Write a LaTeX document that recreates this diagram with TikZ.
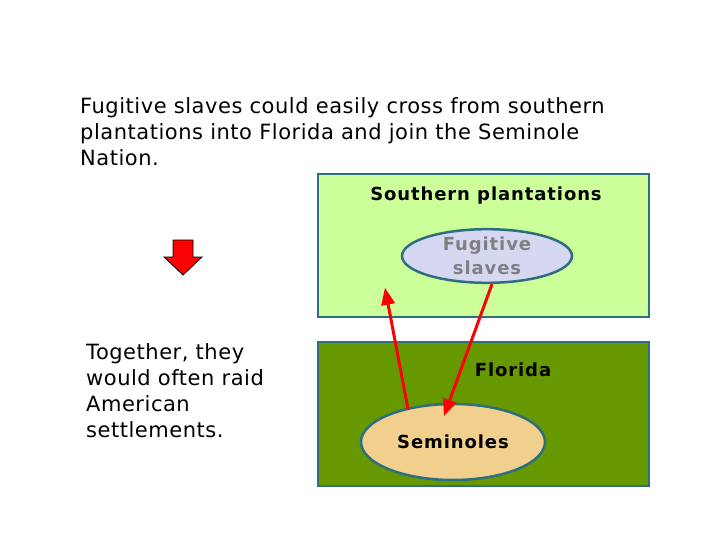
\documentclass[tikz,border=0pt]{standalone}
\usepackage{fontspec}
\setmainfont{DejaVu Sans}
\newfontfamily\widefont[LetterSpace=5]{DejaVu Sans}
\newfontfamily\bodyfont[LetterSpace=2.5]{DejaVu Sans}
\usepackage{tikz}
\usetikzlibrary{arrows,shapes.geometric}
\definecolor{paleleaf}{HTML}{CCFF99}
\definecolor{darkleaf}{HTML}{669900}
\definecolor{tealedge}{HTML}{2E6E7E}
\definecolor{lavender}{HTML}{D6D8F2}
\definecolor{sand}{HTML}{F0D08C}
\definecolor{slavegray}{HTML}{808080}

\begin{document}
\begin{tikzpicture}[x=1pt,y=-1pt]
\tikzset{region/.style={draw=tealedge,line width=2.5pt},
 label/.style={font=\widefont\bfseries\fontsize{18}{22}\selectfont},
 group/.style={ellipse,draw=tealedge,line width=2.5pt,inner sep=0pt,font=\widefont\bfseries\fontsize{18}{24}\selectfont,align=center},
 bodytext/.style={anchor=north west,align=left,inner sep=0pt,font=\bodyfont\fontsize{21}{26}\selectfont},
 crossing/.style={red,line width=3pt,-triangle 45}}
\useasboundingbox[fill=white] (0,0) rectangle (720,540);
\draw[region,fill=paleleaf] (318,174) rectangle (649,317);
\draw[region,fill=darkleaf] (318,342) rectangle (649,486);
\node[label] (south) at (486,196) {Southern plantations};
\node[label] (florida) at (513,370) {Florida};
\node[group,fill=lavender,text=slavegray,minimum width=170pt,minimum height=52pt] (slaves) at (487,256) {Fugitive\\slaves};
\node[group,fill=sand,minimum width=184pt,minimum height=76pt] (seminoles) at (453,442) {Seminoles};
\coordinate (upend) at (385,288);
\coordinate (downend) at (444,416);
\draw[crossing] (408,409) -- (upend);
\draw[crossing] (slaves.south) ++(5,0) -- (downend);
\node[bodytext] (intro) at (80,97) {Fugitive slaves could easily cross from southern\\plantations into Florida and join the Seminole\\Nation.};
\node[bodytext] (raid) at (86,343) {Together, they\\would often raid\\American\\settlements.};
\draw[fill=red,line width=0.8pt] (173,240) -- (193,240) -- (193,257) -- (202,257) -- (183,275) -- (164,257) -- (173,257) -- cycle;
\end{tikzpicture}
\end{document}
